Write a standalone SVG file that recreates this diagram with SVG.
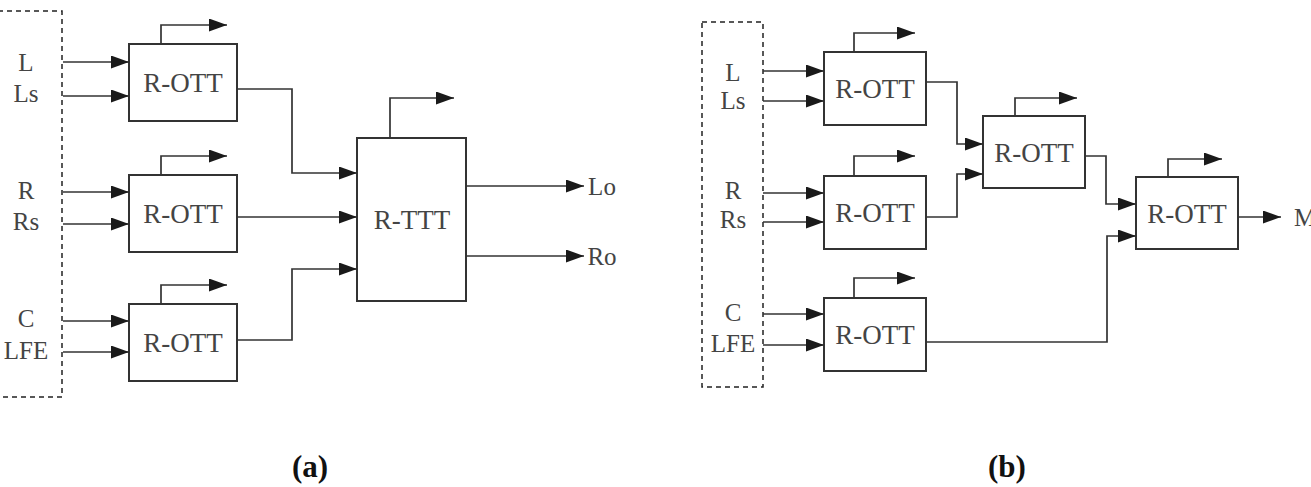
<svg xmlns="http://www.w3.org/2000/svg" width="1311" height="487" viewBox="0 0 1311 487">
<defs>
<marker id="ah" markerUnits="userSpaceOnUse" markerWidth="18" markerHeight="13" refX="18" refY="6.5" orient="auto"><path d="M0,0 L18,6.5 L0,13 z" fill="#1a1a1a"/></marker>
<style>
.box{fill:#fff;stroke:#333;stroke-width:2}
.dash{fill:none;stroke:#222;stroke-width:1.5;stroke-dasharray:5,4}
.w{fill:none;stroke:#333;stroke-width:1.7;marker-end:url(#ah)}
.t{font-family:"Liberation Serif",serif;font-size:27px;fill:#444;text-anchor:middle}
.s{font-family:"Liberation Serif",serif;font-size:25px;fill:#444;text-anchor:middle}
.c{font-family:"Liberation Serif",serif;font-size:31px;font-weight:bold;fill:#111;text-anchor:middle}
</style>
</defs>
<rect width="1311" height="487" fill="#fff"/>

<!-- panel a -->
<g id="a-inputs">
<rect class="dash" x="-2" y="11" width="64" height="386"/>
<text class="s" x="26" y="71">L</text>
<text class="s" x="26" y="102">Ls</text>
<text class="s" x="26" y="199">R</text>
<text class="s" x="26" y="230">Rs</text>
<text class="s" x="26" y="327">C</text>
<text class="s" x="26" y="359">LFE</text>
</g>
<g id="a-ott1"><rect class="box" x="129" y="44" width="108" height="77"/><text class="t" x="183" y="92">R-OTT</text></g>
<g id="a-ott2"><rect class="box" x="129" y="175" width="108" height="77"/><text class="t" x="183" y="223">R-OTT</text></g>
<g id="a-ott3"><rect class="box" x="129" y="304" width="108" height="77"/><text class="t" x="183" y="352">R-OTT</text></g>
<g id="a-ttt"><rect class="box" x="357" y="138" width="109" height="163"/><text class="t" x="412" y="229">R-TTT</text></g>
<g id="a-out">
<text class="s" x="602" y="195">Lo</text>
<text class="s" x="602" y="265">Ro</text>
</g>
<g id="a-connectors">
<path class="w" d="M63,62 H129"/>
<path class="w" d="M63,96 H129"/>
<path class="w" d="M63,192 H129"/>
<path class="w" d="M63,224 H129"/>
<path class="w" d="M63,321 H129"/>
<path class="w" d="M63,352 H129"/>
<path class="w" d="M161,44 V25 H227"/>
<path class="w" d="M161,175 V156 H227"/>
<path class="w" d="M161,304 V285 H227"/>
<path class="w" d="M390,138 V98 H454"/>
<path class="w" d="M237,89 H292 V173 H357"/>
<path class="w" d="M237,217 H357"/>
<path class="w" d="M237,340 H292 V269 H357"/>
<path class="w" d="M466,186 H584"/>
<path class="w" d="M466,256 H584"/>
</g>

<!-- panel b -->
<g id="b-inputs">
<rect class="dash" x="702" y="22" width="61" height="365"/>
<text class="s" x="733" y="81">L</text>
<text class="s" x="733" y="109">Ls</text>
<text class="s" x="733" y="199">R</text>
<text class="s" x="733" y="228">Rs</text>
<text class="s" x="733" y="321">C</text>
<text class="s" x="733" y="352">LFE</text>
</g>
<g id="b-ott1"><rect class="box" x="824" y="52" width="102" height="73"/><text class="t" x="875" y="98">R-OTT</text></g>
<g id="b-ott2"><rect class="box" x="824" y="176" width="102" height="73"/><text class="t" x="875" y="222">R-OTT</text></g>
<g id="b-ott3"><rect class="box" x="824" y="298" width="102" height="73"/><text class="t" x="875" y="344">R-OTT</text></g>
<g id="b-ott4"><rect class="box" x="983" y="116" width="102" height="72"/><text class="t" x="1034" y="162">R-OTT</text></g>
<g id="b-ott5"><rect class="box" x="1136" y="177" width="102" height="72"/><text class="t" x="1187" y="223">R-OTT</text></g>
<g id="b-out"><text class="s" x="1294" y="226" style="text-anchor:start">M</text></g>
<g id="b-connectors">
<path class="w" d="M763,71 H824"/>
<path class="w" d="M763,101 H824"/>
<path class="w" d="M763,193 H824"/>
<path class="w" d="M763,222 H824"/>
<path class="w" d="M763,314 H824"/>
<path class="w" d="M763,345 H824"/>
<path class="w" d="M854,52 V33 H915"/>
<path class="w" d="M854,176 V156 H915"/>
<path class="w" d="M854,298 V278 H915"/>
<path class="w" d="M1015,116 V98 H1077"/>
<path class="w" d="M1168,177 V159 H1222"/>
<path class="w" d="M926,82 H957 V144 H983"/>
<path class="w" d="M926,217 H957 V174 H983"/>
<path class="w" d="M1085,156 H1106 V204 H1136"/>
<path class="w" d="M926,342 H1107 V236 H1136"/>
<path class="w" d="M1238,217 H1281"/>
</g>

<g id="captions">
<text class="c" x="310" y="477">(a)</text>
<text class="c" x="1007" y="477">(b)</text>
</g>
</svg>
